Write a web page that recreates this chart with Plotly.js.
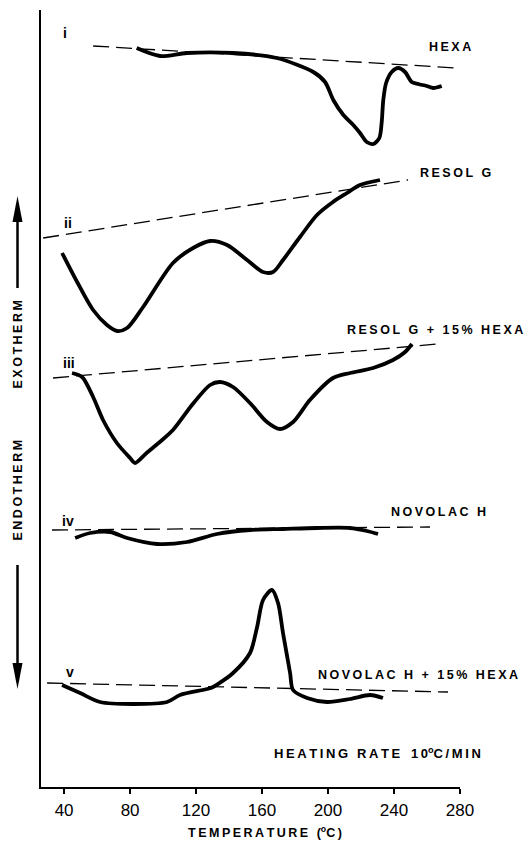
<!DOCTYPE html>
<html>
<head>
<meta charset="utf-8">
<script src="https://cdn.plot.ly/plotly-3.0.1.min.js"></script>
<style>html,body{margin:0;padding:0;background:#fff;}#chart{width:529px;height:844px;}</style>
</head>
<body>
<div id="chart"></div>
<script>
// Temperatures (°C) and signal heights (arbitrary units, offset per curve)
const hexaT = [84.0, 98.2, 114.4, 142.6, 168.9, 191.1, 198.2, 203.2, 209.3, 215.3, 219.4, 223.5, 227.5, 231.1, 232.5, 233.5, 235.2, 238.6, 242.6, 246.7, 250.7, 254.7, 259.8, 263.8, 268.9];
const hexaY = [739, 731, 734, 734, 729, 715, 705, 687, 672, 662, 654, 645, 643, 649, 664, 687, 704, 715, 719, 715, 705, 703, 701, 699, 701];
const hexaBaseT = [57.6, 278];
const hexaBaseY = [741, 719];

const resolT = [38.8, 47.9, 57.6, 66.0, 72.1, 78.2, 87.9, 106.0, 118.2, 128.5, 138.8, 150.9, 160.6, 166.7, 172.7, 183.0, 193.3, 203.0, 211.5, 219.4, 231.5];
const resolY = [534, 505, 477, 462, 456, 459, 480, 524, 539, 546, 542, 527, 515, 515, 527, 550, 572, 585, 594, 602, 607];
const resolBaseT = [27.3, 248.5];
const resolBaseY = [549, 607];

const resolHexaT = [44.8, 50.9, 57.6, 63.6, 72.0, 80.0, 83.0, 90.0, 98.0, 106.0, 118.0, 128.5, 134.5, 142.4, 152.7, 163.0, 170.9, 178.8, 189.0, 203.0, 213.3, 227.3, 239.4, 246.7, 250.9];
const resolHexaY = [414, 410, 390, 367, 344, 329, 324, 334, 345, 357, 383, 402, 405, 400, 384, 365, 358, 365, 387, 409, 414, 419, 427, 435, 443];
const resolHexaBaseT = [33.3, 266.7];
const resolHexaBaseY = [409, 443];

const novolacT = [46.7, 55.8, 67.9, 78.2, 96.4, 114.5, 132.7, 152.7, 172.7, 193.3, 213.3, 223.6, 230.3];
const novolacY = [249, 254, 255, 249, 243, 245, 253, 257, 258, 259, 259, 256, 253];
const novolacBaseT = [32.7, 261.8];
const novolacBaseY = [257, 260];

const novolacHexaT = [38.8, 49.7, 61.8, 81.8, 102.4, 110.3, 126.7, 130.3, 142.4, 152.7, 157.0, 160.6, 166.0, 169.7, 172.7, 177.0, 178.8, 187.3, 199.4, 213.3, 225.5, 233.3];
const novolacHexaY = [102, 94, 85, 83, 85, 92, 98, 100, 114, 134, 160, 187, 197, 184, 154, 114, 97, 89, 85, 88, 92, 89];
const novolacHexaBaseT = [29.7, 272.7];
const novolacHexaBaseY = [104, 95];

const tickVals = [40, 80, 120, 160, 200, 240, 280];
const tickText = ['40', '80', '120', '160', '200', '240', '280'];

const curveNames = ['HEXA', 'RESOL G', 'RESOL G + 15% HEXA', 'NOVOLAC H', 'NOVOLAC H + 15% HEXA'];
const romanLabels = ['i', 'ii', 'iii', 'iv', 'v'];

// ---------- build ----------
const curves = [
  [hexaT, hexaY, hexaBaseT, hexaBaseY],
  [resolT, resolY, resolBaseT, resolBaseY],
  [resolHexaT, resolHexaY, resolHexaBaseT, resolHexaBaseY],
  [novolacT, novolacY, novolacBaseT, novolacBaseY],
  [novolacHexaT, novolacHexaY, novolacHexaBaseT, novolacHexaBaseY]
];
const traces = [];
curves.forEach((c, i) => {
  traces.push({x: c[2], y: c[3], mode: 'lines', type: 'scatter', hoverinfo: 'skip',
    line: {color: '#000', width: 1.3, dash: '16px,7px'}, showlegend: false});
  traces.push({x: c[0], y: c[1], mode: 'lines', type: 'scatter', name: curveNames[i],
    line: {color: '#000', width: 3.8, shape: 'spline', smoothing: 0.8}, showlegend: false});
});

function spaced(s) { return s.split('').join('\u2009'); }

const FAM = 'Liberation Sans, Arial, sans-serif';
const labelFont = {family: FAM, size: 12.5, color: '#000'};
const nameX = [274, 277, 264.8, 266.7, 254.5];
const nameY = [740, 614, 457, 275, 112];
const romX = [40.6, 42.4, 43.0, 42.4, 43.6];
const romY = [754, 564, 424, 266, 115];

const annotations = [];
curveNames.forEach((n, i) => {
  annotations.push({x: nameX[i], y: nameY[i], xref: 'x', yref: 'y', text: '<b>' + spaced(n) + '</b>',
    showarrow: false, font: labelFont, xanchor: 'center', yanchor: 'middle'});
  annotations.push({x: romX[i], y: romY[i], xref: 'x', yref: 'y', text: '<b>' + romanLabels[i] + '</b>',
    showarrow: false, font: {family: FAM, size: 14, color: '#000'}, xanchor: 'center', yanchor: 'middle'});
});
annotations.push({x: 229.7, y: 34, xref: 'x', yref: 'y', text: '<b>' + spaced('HEATING RATE') + '\u00a0\u00a0\u00a0' + spaced('10') + '<sup>o</sup>' + spaced('C/MIN') + '</b>',
  showarrow: false, font: {family: FAM, size: 13, color: '#000'}, xanchor: 'center', yanchor: 'middle'});

// side labels (pixel -> paper helpers)
const L = 41, R = 460, T = 10, B = 787;
const px = v => (v - L) / (R - L);
const py = v => (B - v) / (B - T);
annotations.push({x: px(17.5), y: py(345), xref: 'paper', yref: 'paper', text: '<b>' + spaced('EXOTHERM') + '</b>',
  textangle: -90, showarrow: false, font: labelFont, xanchor: 'center', yanchor: 'middle'});
annotations.push({x: px(17.5), y: py(490), xref: 'paper', yref: 'paper', text: '<b>' + spaced('ENDOTHERM') + '</b>',
  textangle: -90, showarrow: false, font: labelFont, xanchor: 'center', yanchor: 'middle'});
// x-axis title
annotations.push({x: px(265), y: py(832), xref: 'paper', yref: 'paper',
  text: '<b>' + spaced('TEMPERATURE (') + '<sup>o</sup>' + spaced('C)') + '</b>',
  showarrow: false, font: labelFont, xanchor: 'center', yanchor: 'middle'});

const shapes = [
  {type: 'line', xref: 'paper', yref: 'paper', x0: px(17.5), x1: px(17.5), y0: py(288), y1: py(215), line: {color: '#000', width: 2.5}},
  {type: 'path', xref: 'paper', yref: 'paper', path: `M ${px(17.5)} ${py(196)} L ${px(12.5)} ${py(222)} L ${px(22.5)} ${py(222)} Z`, fillcolor: '#000', line: {width: 0}},
  {type: 'line', xref: 'paper', yref: 'paper', x0: px(17.5), x1: px(17.5), y0: py(565), y1: py(670), line: {color: '#000', width: 2.5}},
  {type: 'path', xref: 'paper', yref: 'paper', path: `M ${px(17.5)} ${py(689)} L ${px(12.5)} ${py(663)} L ${px(22.5)} ${py(663)} Z`, fillcolor: '#000', line: {width: 0}}
];

const layout = {
  width: 529, height: 844,
  margin: {l: L, r: 529 - R, t: T, b: 844 - B},
  paper_bgcolor: '#fff', plot_bgcolor: '#fff',
  showlegend: false,
  xaxis: {
    range: [26, 280], tickvals: tickVals, ticktext: tickText,
    showline: true, linecolor: '#000', linewidth: 2, mirror: false,
    ticks: 'outside', ticklen: 5, tickwidth: 1.5, tickcolor: '#000',
    showgrid: false, zeroline: false,
    tickfont: {family: FAM, size: 17, color: '#000'},
    ticklabelstandoff: 2
  },
  yaxis: {
    range: [0, 777], showline: true, linecolor: '#000', linewidth: 2,
    showticklabels: false, ticks: '', showgrid: false, zeroline: false
  },
  annotations: annotations,
  shapes: shapes
};

Plotly.newPlot('chart', traces, layout, {displayModeBar: false, staticPlot: true});
</script>
</body>
</html>
